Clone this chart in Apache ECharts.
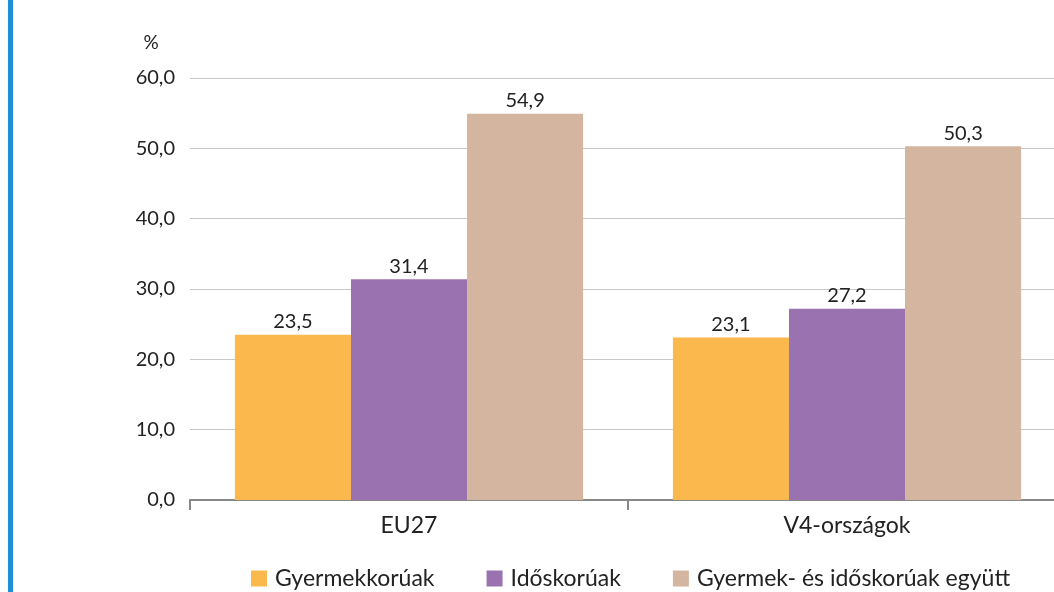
<!DOCTYPE html>
<html lang="hu">
<head>
    <meta charset="UTF-8">
    <title>Gyermekkorúak és időskorúak</title>
    <script src="https://cdn.jsdelivr.net/npm/echarts@6/dist/echarts.min.js"></script>
</head>
<body style="margin: 0; overflow: hidden">
<!-- the plot runs past the right edge of the window, so the chart is a bit wider than the page -->
<div id="chart" style="width: 1080px; height: 592px"></div>
<script>
const categories = ['EU27', 'V4-országok']
const seriesNames = ['Gyermekkorúak', 'Időskorúak', 'Gyermek- és időskorúak együtt']
const gyermek = [23.5, 23.1]
const idos = [31.4, 27.2]
const egyutt = [54.9, 50.3]
const colors = ['#FBB84D', '#9B72B0', '#D4B5A0']

const fmt = v => v.toFixed(1).replace('.', ',')
const font = "Lato, 'Open Sans', sans-serif"

const chart = echarts.init(document.getElementById('chart'))
const values = [gyermek, idos, egyutt]
chart.setOption({
    animation: false,
    textStyle: { fontFamily: font },
    graphic: [{
        type: 'rect',
        shape: { x: 8, y: 0, width: 5, height: 592 },
        style: { fill: '#1E8FD5' }
    }, {
        // unit label above the y axis
        type: 'text',
        x: 151,
        y: 43,
        style: { text: '%', fontSize: 19, fontFamily: font, fill: '#222', align: 'center', verticalAlign: 'middle' }
    }],
    grid: { left: 190, right: 14, top: 78, bottom: 92 },
    legend: {
        top: 567,
        left: 251,
        padding: 0,
        itemWidth: 16,
        itemHeight: 16,
        itemGap: 52,
        icon: 'rect',
        textStyle: { fontSize: 23, color: '#222', fontFamily: font, padding: [0, 0, 0, 3] },
        data: seriesNames
    },
    xAxis: {
        type: 'category',
        data: categories,
        axisLine: { lineStyle: { color: '#888', width: 2 } },
        axisTick: { show: true, length: 10, lineStyle: { color: '#888', width: 2 } },
        axisLabel: { fontSize: 23, color: '#222', margin: 14 }
    },
    yAxis: {
        type: 'value',
        min: 0,
        max: 60,
        interval: 10,
        axisLine: { show: false },
        axisTick: { show: false },
        splitLine: { lineStyle: { color: '#c8c8c8', width: 1 } },
        axisLabel: { fontSize: 20, color: '#222', margin: 15, formatter: v => fmt(v) }
    },
    series: seriesNames.map((name, i) => ({
        name: name,
        type: 'bar',
        data: values[i],
        barGap: '0%',
        barCategoryGap: '20.5%',
        itemStyle: { color: colors[i] },
        label: {
            show: true,
            position: 'top',
            distance: 3,
            fontSize: 20,
            color: '#222',
            formatter: p => fmt(p.value)
        }
    }))
})
</script>
</body>
</html>
